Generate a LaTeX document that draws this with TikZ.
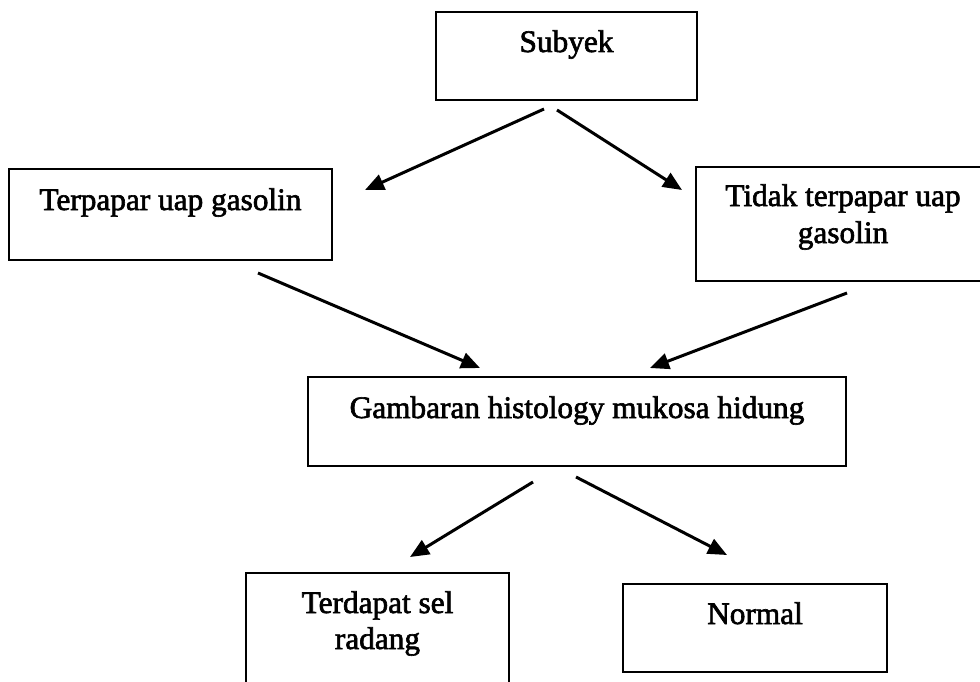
\documentclass[tikz,border=0pt]{standalone}
\usepackage{fontspec}
\setmainfont{Liberation Serif}[FakeBold=2]
\usetikzlibrary{arrows.meta}
\tikzset{
  box/.style={draw=black, line width=2.8pt, inner sep=0pt, fill=none},
  lbl/.style={inner sep=0pt, anchor=base, font=\fontsize{31.3}{37}\selectfont},
  arr/.style={draw=black, line width=3pt, -{Triangle[length=19pt,width=16pt]}}
}
\begin{document}
\begin{tikzpicture}[x=1pt,y=-1pt]
\clip (0,0) rectangle (980,682);
\fill[white] (0,0) rectangle (980,682);
% boxes
\node[box, minimum width=261pt, minimum height=88pt] (sub) at (566.5,56) {};
\node[box, minimum width=323pt, minimum height=91pt] (ter) at (170.5,214.5) {};
\node[box, minimum width=294pt, minimum height=114pt] (tid) at (843,224) {};
\node[box, minimum width=538pt, minimum height=89pt] (gam) at (577,421.5) {};
\node[box, minimum width=263pt, minimum height=127pt] (trd) at (377.5,636.5) {};
\node[box, minimum width=264pt, minimum height=88pt] (nor) at (755,628) {};
% texts
\node[lbl] (subt) at (566.5,52) {Subyek};
\node[lbl] (tert) at (170.5,210) {Terpapar uap gasolin};
\node[lbl] (tidt1) at (843,206) {Tidak terpapar uap};
\node[lbl] (tidt2) at (843,243) {gasolin};
\node[lbl] (gamt) at (577,418) {Gambaran histology mukosa hidung};
\node[lbl] (trdt1) at (377.5,613) {Terdapat sel};
\node[lbl] (trdt2) at (377.5,649) {radang};
\node[lbl] (nort) at (755,624) {Normal};
% connector ends
\coordinate (s1) at (544,109);  \coordinate (e1) at (365,190);
\coordinate (s2) at (557,110);  \coordinate (e2) at (682,190);
\coordinate (s3) at (258,273);  \coordinate (e3) at (480,368);
\coordinate (s4) at (847,293);  \coordinate (e4) at (650,368);
\coordinate (s5) at (533,482);  \coordinate (e5) at (410,557);
\coordinate (s6) at (576,477);  \coordinate (e6) at (727,555);
\draw[arr] (s1) -- (e1);
\draw[arr] (s2) -- (e2);
\draw[arr] (s3) -- (e3);
\draw[arr] (s4) -- (e4);
\draw[arr] (s5) -- (e5);
\draw[arr] (s6) -- (e6);
\end{tikzpicture}
\end{document}
